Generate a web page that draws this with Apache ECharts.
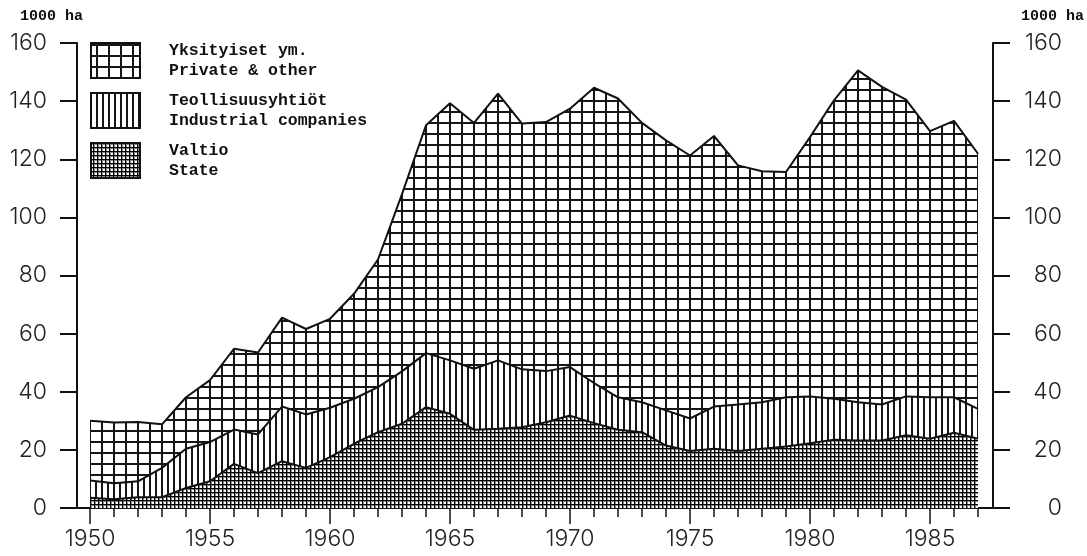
<!DOCTYPE html>
<html><head><meta charset="utf-8">
<script src="https://cdn.jsdelivr.net/npm/echarts@6/dist/echarts.min.js"></script>
<style>html,body{margin:0;padding:0;background:#fff}#c{width:1087px;height:556px}</style>
</head><body><div id="c"></div>
<script>
const years = ['1950','1951','1952','1953','1954','1955','1956','1957','1958','1959',
  '1960','1961','1962','1963','1964','1965','1966','1967','1968','1969',
  '1970','1971','1972','1973','1974','1975','1976','1977','1978','1979',
  '1980','1981','1982','1983','1984','1985','1986','1987'];
// Valtio / State
const stateVals = [3.5,3.0,3.7,3.7,6.9,9.2,15.2,12.0,16.1,13.8,
  17.5,22.1,26.1,29.0,34.7,32.4,26.9,27.3,27.8,29.5,
  31.8,29.2,26.9,26.1,21.5,19.6,20.4,19.6,20.4,21.2,
  22.3,23.5,23.2,23.2,25.0,23.8,25.9,23.8];
// Teollisuusyhtiöt / Industrial companies
const industrialVals = [6.0,5.5,5.5,10.1,13.5,13.5,11.8,13.3,18.8,18.4,
  17.0,15.5,15.5,18.0,18.6,18.4,21.0,23.5,19.9,17.6,
  16.7,13.8,11.2,10.3,12.1,11.2,14.5,16.0,16.0,16.9,
  16.1,14.1,13.2,12.4,13.4,14.3,12.2,10.3];
// Yksityiset ym. / Private & other
const privateVals = [20.5,20.9,20.4,15.0,17.7,21.3,27.8,28.2,30.6,29.4,
  30.6,36.1,43.9,61.0,78.4,88.5,84.6,91.8,84.6,85.7,
  88.9,101.6,102.8,96.1,92.9,90.5,93.1,82.3,79.5,77.5,
  89.2,102.7,114.2,109.3,102.1,91.6,95.1,87.8];
const yTicks = {min: 0, max: 160, interval: 20};
const names = {
  priv: 'Yksityiset ym.\nPrivate & other',
  ind: 'Teollisuusyhtiöt\nIndustrial companies',
  state: 'Valtio\nState'
};

function makePattern(w, h, vx, hy, color, extra) {
  const c = document.createElement('canvas');
  c.width = w; c.height = h;
  const g = c.getContext('2d');
  g.fillStyle = '#fff'; g.fillRect(0, 0, w, h);
  if (extra) { g.fillStyle = extra.color; extra.rects.forEach(function (r) { g.fillRect(r[0], r[1], r[2], r[3]); }); }
  g.fillStyle = color;
  vx.forEach(function (r) { g.fillRect(r[0], 0, r[1], h); });
  hy.forEach(function (r) { g.fillRect(0, r[0], w, r[1]); });
  return {image: c, repeat: 'repeat'};
}
const patPriv = makePattern(12, 11, [[5, 2]], [[1, 2]], '#161616');
const patInd = makePattern(6, 2, [[0, 1], [5, 1]], [], '#161616');
const patState = makePattern(4, 4, [[2, 1]], [[0, 1]], '#000', {color: '#8a8a8a', rects: [[0, 1, 4, 1], [3, 0, 1, 4]]});

const lblFont = {fontFamily: 'Inter, "DejaVu Sans", sans-serif', fontWeight: 300, fontSize: 23, color: '#222'};
const monoFont = {fontFamily: '"Liberation Mono", "DejaVu Sans Mono", monospace', fontWeight: 'bold', color: '#111'};

const chart = echarts.init(document.getElementById('c'), null, {renderer: 'canvas'});
chart.setOption({
  animation: false,
  backgroundColor: '#fff',
  grid: [
    {left: 90, right: 109, top: 43, bottom: 48},
    {left: 77, right: 94, top: 43, bottom: 48}
  ],
  xAxis: [
    {type: 'category', gridIndex: 0, data: years, boundaryGap: false,
      axisLine: {show: false},
      axisTick: {show: true, interval: 0, length: 9, lineStyle: {color: '#111', width: 1.5}},
      axisLabel: Object.assign({interval: 4, margin: 20}, lblFont),
      splitLine: {show: false}},
    {type: 'category', gridIndex: 0, data: years, boundaryGap: false, position: 'bottom',
      axisLine: {show: false},
      axisTick: {show: true, interval: 4, length: 16, lineStyle: {color: '#111', width: 1.5}},
      axisLabel: {show: false}, splitLine: {show: false}},
    {type: 'value', gridIndex: 1, min: 0, max: 1,
      axisLine: {show: true, lineStyle: {color: '#111', width: 2}},
      axisTick: {show: false}, axisLabel: {show: false}, splitLine: {show: false}}
  ],
  yAxis: [
    {type: 'value', gridIndex: 0, min: yTicks.min, max: yTicks.max, interval: yTicks.interval, show: false},
    {type: 'value', gridIndex: 1, position: 'left', min: yTicks.min, max: yTicks.max, interval: yTicks.interval,
      axisLine: {show: true, lineStyle: {color: '#111', width: 2}},
      axisTick: {show: true, length: 17, lineStyle: {color: '#111', width: 2}},
      axisLabel: Object.assign({margin: 30, align: 'right'}, lblFont),
      splitLine: {show: false}},
    {type: 'value', gridIndex: 1, position: 'right', min: yTicks.min, max: yTicks.max, interval: yTicks.interval,
      axisLine: {show: true, lineStyle: {color: '#111', width: 2}},
      axisTick: {show: true, length: 17, lineStyle: {color: '#111', width: 2}},
      axisLabel: Object.assign({margin: 69, align: 'right'}, lblFont),
      splitLine: {show: false}}
  ],
  legend: {
    orient: 'vertical', left: 90, top: 37.5, padding: 0, itemWidth: 49, itemHeight: 35, itemGap: 4,
    selectedMode: false, icon: 'rect',
    textStyle: Object.assign({fontSize: 16.5, lineHeight: 20, padding: [0, 0, 6, 24]}, monoFont),
    data: [
      {name: names.priv, icon: 'rect', itemStyle: {color: patPriv, borderColor: '#111', borderWidth: 2}},
      {name: names.ind, icon: 'rect', itemStyle: {color: patInd, borderColor: '#111', borderWidth: 2}},
      {name: names.state, icon: 'rect', itemStyle: {color: patState, borderColor: '#111', borderWidth: 2}}
    ]
  },
  graphic: [
    {type: 'text', left: 20, top: 9, style: Object.assign({text: '1000 ha', fontSize: 15}, monoFont, {fill: '#111'})},
    {type: 'text', left: 1021, top: 9, style: Object.assign({text: '1000 ha', fontSize: 15}, monoFont, {fill: '#111'})}
  ],
  series: [
    {name: names.state, type: 'line', stack: 'all', xAxisIndex: 0, yAxisIndex: 0, data: stateVals,
      symbol: 'none', z: 4, lineStyle: {color: '#111', width: 2}, itemStyle: {color: '#111'},
      areaStyle: {color: patState, opacity: 1}},
    {name: names.ind, type: 'line', stack: 'all', xAxisIndex: 0, yAxisIndex: 0, data: industrialVals,
      symbol: 'none', z: 3, lineStyle: {color: '#111', width: 2}, itemStyle: {color: '#111'},
      areaStyle: {color: patInd, opacity: 1}},
    {name: names.priv, type: 'line', stack: 'all', xAxisIndex: 0, yAxisIndex: 0, data: privateVals,
      symbol: 'none', z: 2, lineStyle: {color: '#111', width: 2}, itemStyle: {color: '#111'},
      areaStyle: {color: patPriv, opacity: 1}}
  ]
});
</script>
</body></html>
